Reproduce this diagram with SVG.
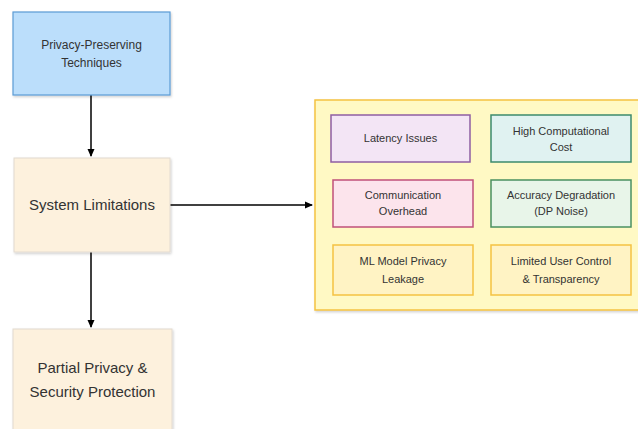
<svg xmlns="http://www.w3.org/2000/svg" width="638" height="429" viewBox="0 0 638 429">
<defs>
<marker id="ah" markerWidth="8" markerHeight="8" refX="7" refY="4" orient="auto" markerUnits="userSpaceOnUse">
<path d="M0,0.5 L8,4 L0,7.5 Z" fill="#000"/>
</marker>
<filter id="sh" x="-10%" y="-10%" width="120%" height="130%">
<feDropShadow dx="1" dy="1.5" stdDeviation="1.2" flood-color="#000" flood-opacity="0.18"/>
</filter>
</defs>
<style>
text{font-family:"Liberation Sans",Arial,sans-serif;fill:#333;text-anchor:middle}
.s{font-size:11px}
.m{font-size:12px}
.l{font-size:15px}
.e{stroke:#000;stroke-width:1.5;fill:none}
</style>
<rect width="638" height="429" fill="#fff"/>
<g id="connectors">
<line class="e" x1="91" y1="95" x2="91" y2="156" marker-end="url(#ah)"/>
<line class="e" x1="170" y1="205" x2="312" y2="205" marker-end="url(#ah)"/>
<line class="e" x1="91" y1="252" x2="91" y2="327" marker-end="url(#ah)"/>
</g>
<g id="privacy-preserving">
<rect x="13" y="12" width="157" height="83" fill="#bbdefb" stroke="#5b9bd5" stroke-width="1.2" filter="url(#sh)"/>
<text class="m" x="91.5" y="49">Privacy-Preserving</text>
<text class="m" x="91.5" y="67">Techniques</text>
</g>
<g id="system-limitations">
<rect x="14" y="158" width="156" height="94" fill="#fdf1dd" stroke="#e2dad0" stroke-width="1" filter="url(#sh)"/>
<text class="l" x="92" y="210">System Limitations</text>
</g>
<g id="partial-protection">
<rect x="13" y="329" width="159" height="110" fill="#fdf1dd" stroke="#e2dad0" stroke-width="1" filter="url(#sh)"/>
<text class="l" x="92.5" y="373">Partial Privacy &amp;</text>
<text class="l" x="92.5" y="397">Security Protection</text>
</g>
<g id="limitations-group">
<rect x="315" y="100" width="330" height="210" fill="#fff9c4" stroke="#f5c242" stroke-width="1.5" filter="url(#sh)"/>
</g>
<g id="latency">
<rect x="331" y="115" width="139" height="47" fill="#f3e5f5" stroke="#8e5ea2" stroke-width="1.5"/>
<text class="s" x="400.5" y="142">Latency Issues</text>
</g>
<g id="computational">
<rect x="491" y="115" width="140" height="47" fill="#e0f2f1" stroke="#3d8a6c" stroke-width="1.5"/>
<text class="s" x="561" y="135">High Computational</text>
<text class="s" x="561" y="151">Cost</text>
</g>
<g id="communication">
<rect x="333" y="180" width="140" height="47" fill="#fce4ec" stroke="#c0507a" stroke-width="1.5"/>
<text class="s" x="403" y="199">Communication</text>
<text class="s" x="403" y="215">Overhead</text>
</g>
<g id="accuracy">
<rect x="491" y="180" width="140" height="47" fill="#e8f5e9" stroke="#4a9060" stroke-width="1.5"/>
<text class="s" x="561" y="199">Accuracy Degradation</text>
<text class="s" x="561" y="215">(DP Noise)</text>
</g>
<g id="ml-leakage">
<rect x="333" y="245" width="140" height="50" fill="#fff3c4" stroke="#f5c242" stroke-width="1.5"/>
<text class="s" x="403" y="265">ML Model Privacy</text>
<text class="s" x="403" y="283">Leakage</text>
</g>
<g id="user-control">
<rect x="491" y="245" width="140" height="50" fill="#fff3c4" stroke="#f5c242" stroke-width="1.5"/>
<text class="s" x="561" y="265">Limited User Control</text>
<text class="s" x="561" y="283">&amp; Transparency</text>
</g>
</svg>
